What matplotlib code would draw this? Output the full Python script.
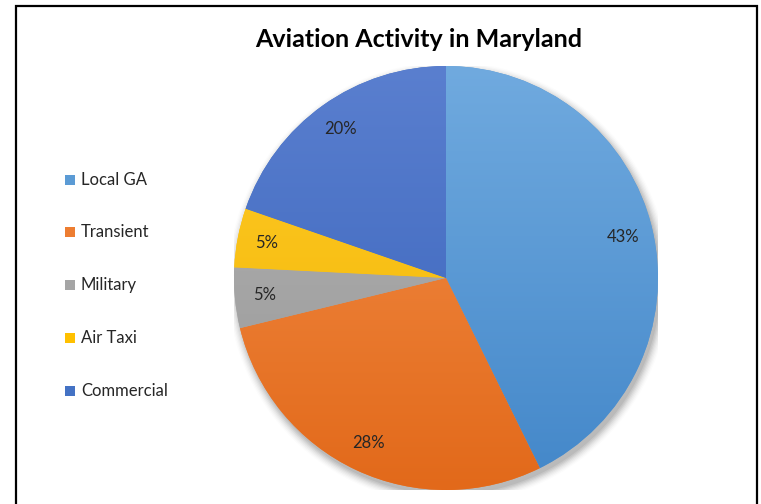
import numpy as np
import matplotlib
matplotlib.use("Agg")
import matplotlib.pyplot as plt
from matplotlib.patches import Rectangle, Circle
from matplotlib.colors import LinearSegmentedColormap

categories = ["Local GA", "Transient", "Military", "Air Taxi", "Commercial"]
values = [42.7, 28.5, 4.6, 4.5, 19.7]
labels = ["43%", "28%", "5%", "5%", "20%"]
colors = ["#5B9BD5", "#ED7D31", "#A5A5A5", "#FFC000", "#4472C4"]
grad_top = ["#70AADF", "#F4914C", "#B4B4B4", "#FFCA2A", "#5A7FCF"]
grad_bot = ["#4387C9", "#E2691A", "#979797", "#F2B600", "#3762BA"]

plt.rcParams['font.family'] = ['Lato', 'DejaVu Sans']

W, H = 761, 504
fig = plt.figure(figsize=(W / 100, H / 100), dpi=100)
fig.patch.set_facecolor("white")

# border
fig.patches.append(Rectangle((16 / W, -0.05), (757 - 16) / W, 1.05 - 6 / H,
                             transform=fig.transFigure, fill=False,
                             edgecolor="black", linewidth=1.6))

cx, cy, r = 446, 278, 212
ax = fig.add_axes([(cx - r) / W, (H - cy - r) / H, 2 * r / W, 2 * r / H])
ax.set_xlim(-1, 1)
ax.set_ylim(-1, 1)
ax.set_aspect("equal")
ax.axis("off")

# soft shadow
for i, a in enumerate(np.linspace(0.06, 0.012, 8)):
    ax.add_patch(Circle((0.012, -0.022), 1.0 + 0.006 * i, color="black",
                        alpha=a, lw=0, zorder=0))

wedges, _, autotexts = ax.pie(values, colors=colors, startangle=90,
                              counterclock=False, radius=1.0,
                              autopct="%1.0f%%", pctdistance=0.86,
                              wedgeprops=dict(linewidth=0, zorder=1),
                              textprops=dict(fontsize=12, color="#262626"))
for t, lab in zip(autotexts, labels):
    t.set_text(lab)
    t.set_zorder(5)

yy = np.linspace(0, 1, 256).reshape(-1, 1)
for w, c0, c1 in zip(wedges, grad_top, grad_bot):
    cmap = LinearSegmentedColormap.from_list("g", [c1, c0])
    im = ax.imshow(yy, cmap=cmap, extent=(-1, 1, -1, 1), origin="lower",
                   aspect="auto", zorder=2)
    im.set_clip_path(w)
ax.set_xlim(-1, 1)
ax.set_ylim(-1, 1)

fig.text(419 / W, 1 - 40 / H, "Aviation Activity in Maryland", ha="center",
         va="center", fontsize=18, fontweight="bold", color="black")

leg_y = [180, 232, 285, 338, 391]
for name, col, y in zip(categories, colors, leg_y):
    fig.patches.append(Rectangle((65 / W, 1 - (y + 5) / H), 10 / W, 10 / H,
                                 transform=fig.transFigure, color=col, lw=0))
    fig.text(81 / W, 1 - y / H, name, ha="left", va="center",
             fontsize=12, color="#262626")

fig.savefig("out.png", dpi=100)
